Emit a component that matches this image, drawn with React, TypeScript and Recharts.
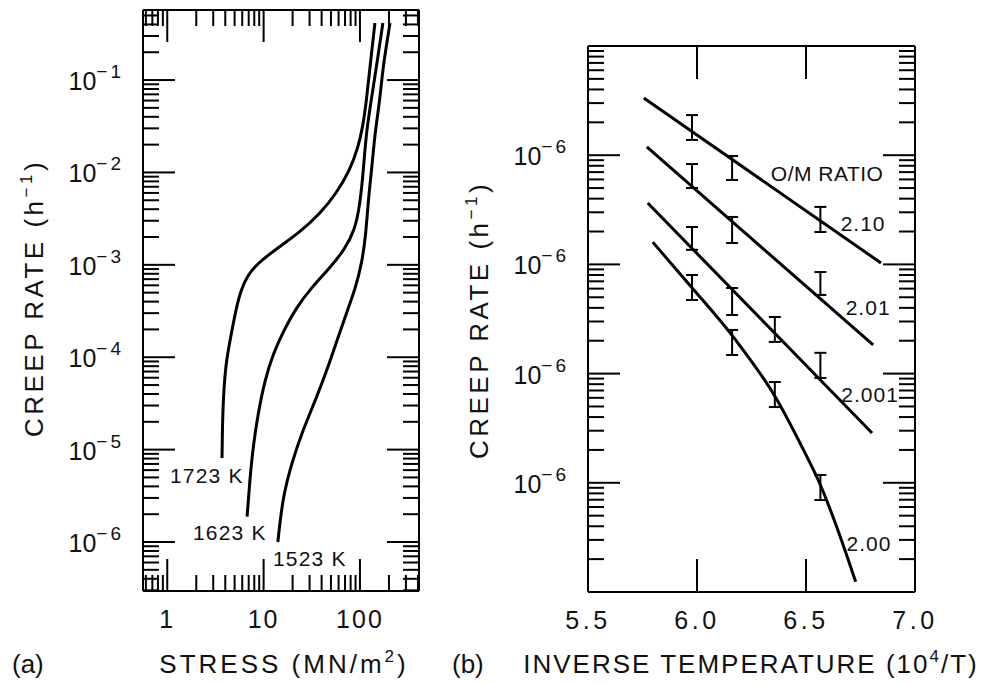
import React from 'react';
import { LineChart, Line, XAxis, YAxis, ErrorBar, ReferenceDot } from 'recharts';

// ---------- (a) creep rate (1/h) vs stress (MN/m^2) ----------
const stress1723 = [3.7, 3.73, 3.82, 4.05, 4.56, 5.14, 5.8, 6.85, 8.71, 13.1, 23.8, 38.3, 57.2, 78.7, 95.8, 107, 117, 127, 143];
const rate1723 = [8.11e-6, 1.63e-5, 3.71e-5, 8.65e-5, 1.66e-4, 3.24e-4, 5.33e-4, 7.76e-4, 1.04e-3, 1.45e-3, 2.26e-3, 3.55e-3, 5.98e-3, 1.06e-2, 1.88e-2, 3.1e-2, 6.08e-2, 0.138, 0.414];

const stress1623 = [6.74, 7.19, 7.78, 8.77, 10.3, 12.6, 15.9, 21.6, 31.7, 48.7, 69.7, 88.5, 99.8, 108, 116, 131, 148, 173];
const rate1623 = [1.88e-6, 4.69e-6, 1.08e-5, 2.47e-5, 5.66e-5, 1.1e-4, 1.87e-4, 3.4e-4, 5.75e-4, 9.23e-4, 1.48e-3, 2.38e-3, 4.44e-3, 9.86e-3, 2.67e-2, 6.08e-2, 0.138, 0.414];

const stress1523 = [14.05, 15.8, 19.6, 25.5, 35.7, 47.5, 58.9, 73.1, 90.6, 105, 115, 122, 133, 143, 161, 173, 205];
const rate1523 = [1.0e-6, 3.07e-6, 7.16e-6, 1.63e-5, 3.71e-5, 8.24e-5, 1.61e-4, 3.08e-4, 5.75e-4, 1.07e-3, 2.1e-3, 5.02e-3, 1.14e-2, 2.67e-2, 6.08e-2, 0.138, 0.414];

const tempLabels = ['1723 K', '1623 K', '1523 K'];
const tempLabelStress = [2.57, 4.46, 30.2];
const tempLabelRate = [5.3e-6, 1.28e-6, 6.7e-7];

const aXDomain = [0.56, 410];
const aYDomain = [2.95e-7, 0.573];
const aXMajors = [1, 10, 100];
const aXTickLabels = ['1', '10', '100'];

// ---------- (b) creep rate vs inverse temperature ----------
const errX210 = [5.977, 6.161, 6.566];
const errLo210 = [1.38e-6, 5.93e-7, 1.98e-7];
const errHi210 = [2.33e-6, 9.84e-7, 3.36e-7];

const errX201 = [5.977, 6.161, 6.566];
const errLo201 = [5.01e-7, 1.57e-7, 5.25e-8];
const errHi201 = [8.3e-7, 2.72e-7, 8.51e-8];

const errX2001 = [5.977, 6.161, 6.357, 6.566];
const errLo2001 = [1.36e-7, 3.44e-8, 1.95e-8, 9.12e-9];
const errHi2001 = [2.2e-7, 6.08e-8, 3.3e-8, 1.55e-8];

const errX200 = [5.977, 6.161, 6.357, 6.566];
const errLo200 = [4.72e-8, 1.48e-8, 4.94e-9, 6.95e-10];
const errHi200 = [8.0e-8, 2.51e-8, 8.38e-9, 1.18e-9];

const fitX210 = [5.756, 6.844];
const fitY210 = [3.34e-6, 1.03e-7];
const fitX201 = [5.77, 6.808];
const fitY201 = [1.19e-6, 1.83e-8];
const fitX2001 = [5.774, 6.803];
const fitY2001 = [3.65e-7, 2.86e-9];
const fitX200 = [5.797, 5.974, 6.17, 6.362, 6.477, 6.568, 6.659, 6.728];
const fitY200 = [1.6e-7, 6.21e-8, 2.12e-8, 5.98e-9, 2.22e-9, 9.35e-10, 3.13e-10, 1.24e-10];

const ratioLabels = ['O/M RATIO', '2.10', '2.01', '2.001', '2.00'];
const ratioLabelX = [6.597, 6.762, 6.785, 6.794, 6.789];
const ratioLabelY = [6.73e-7, 2.39e-7, 4.07e-8, 6.37e-9, 2.81e-10];

const bXDomain = [5.5, 7.0];
const bYDomain = [1e-10, 1e-5];
const bXTicks = [5.5, 6.0, 6.5, 7.0];
const bXTickLabels = ['5.5', '6.0', '6.5', '7.0'];
const bXLongTicks = [6.0, 6.5];
const bYMajors = [1e-6, 1e-7, 1e-8, 1e-9];
// exponents exactly as printed on the original figure
const bYTickExponents = ['−6', '−6', '−6', '−6'];

// ---------- helpers ----------
const FONT = '"Liberation Sans", Arial, Helvetica, sans-serif';
const MAJOR = 32;
const MINOR = 16;

const toPoints = (xs: number[], ys: number[]) => xs.map((x, i) => ({ x, y: ys[i] }));
const toErrPoints = (xs: number[], lo: number[], hi: number[]) =>
  xs.map((x, i) => {
    const v = Math.sqrt(lo[i] * hi[i]);
    return { x, v, err: [v - lo[i], hi[i] - v] };
  });

const sameLog = (a: number, b: number) => Math.abs(Math.log10(a) - Math.log10(b)) < 1e-6;
const isDecade = (v: number) => Math.abs(Math.log10(v) - Math.round(Math.log10(v))) < 1e-6;

// all k*10^n marks within a log domain
const logTicks = (lo: number, hi: number) => {
  const out: number[] = [];
  for (let e = Math.floor(Math.log10(lo)); e <= Math.ceil(Math.log10(hi)); e++) {
    for (let k = 1; k < 10; k++) {
      const v = k * Math.pow(10, e);
      if (v >= lo * 0.999 && v <= hi * 1.001) out.push(v);
    }
  }
  return out;
};

const aXTicks = logTicks(aXDomain[0], aXDomain[1]);
const aYTicks = logTicks(aYDomain[0], aYDomain[1]);
const bYTicks = logTicks(bYDomain[0], bYDomain[1]);

const textStyle = { fontFamily: FONT, fill: '#111' };

const PowerLabel = ({ x, y, exp }: { x: number; y: number; exp: string }) => (
  <text x={x} y={y} textAnchor="end" fontSize={25} style={textStyle}>
    10
    <tspan dy={-12} fontSize={19} letterSpacing={3}>
      {exp}
    </tspan>
  </text>
);

// x ticks drawn inward, side = 1 (top axis) or -1 (bottom axis)
const xTick = (side: number, lenOf: (v: number) => number, labelOf?: (v: number) => string | null, spacing = 2) =>
  (p: any) => {
    const v = p.payload.value;
    const len = lenOf(v);
    const lab = labelOf ? labelOf(v) : null;
    return (
      <g>
        {len > 0 && <line x1={p.x} y1={p.y} x2={p.x} y2={p.y + side * len} stroke="#000" strokeWidth={2} />}
        {lab && (
          <text x={p.x} y={p.y + 37} textAnchor="middle" fontSize={25} letterSpacing={spacing} style={textStyle}>
            {lab}
          </text>
        )}
      </g>
    );
  };

const yTick = (side: number, expOf?: (v: number) => string | null) => (p: any) => {
  const v = p.payload.value;
  const len = isDecade(v) ? MAJOR : MINOR;
  const exp = expOf ? expOf(v) : null;
  return (
    <g>
      <line x1={p.x} y1={p.y} x2={p.x + side * len} y2={p.y} stroke="#000" strokeWidth={2} />
      {exp && <PowerLabel x={p.x - 19} y={p.y + 10} exp={exp} />}
    </g>
  );
};

const logLen = (v: number) => (isDecade(v) ? MAJOR : MINOR);
const aXLabel = (v: number) => {
  const i = aXMajors.findIndex((m) => sameLog(m, v));
  return i >= 0 ? aXTickLabels[i] : null;
};
const aYExp = (v: number) => (isDecade(v) ? String(Math.round(Math.log10(v))).replace('-', '−') : null);
const bXLen = (v: number) => (bXLongTicks.some((t) => Math.abs(t - v) < 1e-6) ? 33 : 0);
const bXLabel = (v: number) => {
  const i = bXTicks.findIndex((t) => Math.abs(t - v) < 1e-6);
  return i >= 0 ? bXTickLabels[i] : null;
};
const bYExp = (v: number) => {
  const i = bYMajors.findIndex((m) => sameLog(m, v));
  return i >= 0 ? bYTickExponents[i] : null;
};

const axisLine = { stroke: '#000', strokeWidth: 2 };
const common = { tickLine: false, tickSize: 0, tickMargin: 0, interval: 0 as const, axisLine, allowDataOverflow: true };

const labelShape = (text: string, size = 21, spacing = 1.2) => (p: any) => (
  <text x={p.cx} y={p.cy} textAnchor="middle" dominantBaseline="central" fontSize={size} letterSpacing={spacing} style={textStyle}>
    {text}
  </text>
);

function PanelA() {
  const curves = [
    toPoints(stress1723, rate1723),
    toPoints(stress1623, rate1623),
    toPoints(stress1523, rate1523),
  ];
  return (
    <LineChart width={440} height={684} margin={{ top: 0, left: 43, right: 11, bottom: 53 }}>
      <XAxis xAxisId="bottom" dataKey="x" type="number" scale="log" domain={aXDomain} ticks={aXTicks} height={40}
        tick={xTick(-1, logLen, aXLabel)} {...common} />
      <XAxis xAxisId="top" orientation="top" dataKey="x" type="number" scale="log" domain={aXDomain} ticks={aXTicks} height={10}
        tick={xTick(1, logLen)} {...common} />
      <YAxis yAxisId="left" type="number" scale="log" domain={aYDomain} ticks={aYTicks} width={100}
        tick={yTick(1, aYExp)} {...common} />
      <YAxis yAxisId="right" orientation="right" type="number" scale="log" domain={aYDomain} ticks={aYTicks} width={10}
        tick={yTick(-1)} {...common} />
      {curves.map((d, i) => (
        <Line key={tempLabels[i]} xAxisId="bottom" yAxisId="left" data={d} dataKey="y" type="basis"
          stroke="#000" strokeWidth={3} dot={false} activeDot={false} isAnimationActive={false} />
      ))}
      {tempLabels.map((t, i) => (
        <ReferenceDot key={t} xAxisId="bottom" yAxisId="left" x={tempLabelStress[i]} y={tempLabelRate[i]} r={0}
          shape={labelShape(t)} />
      ))}
    </LineChart>
  );
}

function PanelB() {
  const fits = [
    { id: '2.10', d: toPoints(fitX210, fitY210), type: 'linear' as const },
    { id: '2.01', d: toPoints(fitX201, fitY201), type: 'linear' as const },
    { id: '2.001', d: toPoints(fitX2001, fitY2001), type: 'linear' as const },
    { id: '2.00', d: toPoints(fitX200, fitY200), type: 'monotone' as const },
  ];
  const errs = [
    toErrPoints(errX210, errLo210, errHi210),
    toErrPoints(errX201, errLo201, errHi201),
    toErrPoints(errX2001, errLo2001, errHi2001),
    toErrPoints(errX200, errLo200, errHi200),
  ];
  return (
    <LineChart width={547} height={684} margin={{ top: 36, left: 48, right: 62, bottom: 52 }}>
      <XAxis xAxisId="bottom" dataKey="x" type="number" domain={bXDomain} ticks={bXTicks} height={40}
        tick={xTick(-1, bXLen, bXLabel, 3.5)} {...common} />
      <XAxis xAxisId="top" orientation="top" dataKey="x" type="number" domain={bXDomain} ticks={bXTicks} height={10}
        tick={xTick(1, bXLen)} {...common} />
      <YAxis yAxisId="left" type="number" scale="log" domain={bYDomain} ticks={bYTicks} width={100}
        tick={yTick(1, bYExp)} {...common} />
      <YAxis yAxisId="right" orientation="right" type="number" scale="log" domain={bYDomain} ticks={bYTicks} width={10}
        tick={yTick(-1)} {...common} />
      {fits.map((f) => (
        <Line key={'fit' + f.id} xAxisId="bottom" yAxisId="left" data={f.d} dataKey="y" type={f.type}
          stroke="#000" strokeWidth={3} dot={false} activeDot={false} isAnimationActive={false} />
      ))}
      {errs.map((d, i) => (
        <Line key={'err' + i} xAxisId="bottom" yAxisId="left" data={d} dataKey="v" stroke="none"
          dot={false} activeDot={false} isAnimationActive={false}>
          <ErrorBar dataKey="err" direction="y" width={6} stroke="#000" strokeWidth={2} isAnimationActive={false} />
        </Line>
      ))}
      {ratioLabels.map((t, i) => (
        <ReferenceDot key={t} xAxisId="bottom" yAxisId="left" x={ratioLabelX[i]} y={ratioLabelY[i]} r={0}
          shape={labelShape(t, 21, i === 0 ? 0.5 : 1)} />
      ))}
    </LineChart>
  );
}

export default function App() {
  const sup = { fontSize: 17 };
  return (
    <div style={{ position: 'absolute', left: 0, top: 0, width: 987, height: 684, background: '#fff' }}>
      <div style={{ position: 'absolute', left: 0, top: 0 }}>
        <PanelA />
      </div>
      <div style={{ position: 'absolute', left: 440, top: 0 }}>
        <PanelB />
      </div>
      <svg width={987} height={684} style={{ position: 'absolute', left: 0, top: 0, pointerEvents: 'none' }}>
        <g style={textStyle} fontSize={26}>
          <text x={12} y={673}>(a)</text>
          <text x={284} y={673} textAnchor="middle" letterSpacing={3}>
            STRESS (MN/m<tspan dy={-11} {...sup}>2</tspan>
            <tspan dy={11}>)</tspan>
          </text>
          <text x={452} y={673}>(b)</text>
          <text x={751} y={673} textAnchor="middle" letterSpacing={2}>
            INVERSE TEMPERATURE (10<tspan dy={-11} {...sup}>4</tspan>
            <tspan dy={11}>/T)</tspan>
          </text>
          <text transform="translate(43,298) rotate(-90)" textAnchor="middle" letterSpacing={3.5}>
            CREEP RATE (h<tspan dy={-11} {...sup}>−1</tspan>
            <tspan dy={11}>)</tspan>
          </text>
          <text transform="translate(488,320) rotate(-90)" textAnchor="middle" letterSpacing={3.5}>
            CREEP RATE (h<tspan dy={-11} {...sup}>−1</tspan>
            <tspan dy={11}>)</tspan>
          </text>
        </g>
      </svg>
    </div>
  );
}
